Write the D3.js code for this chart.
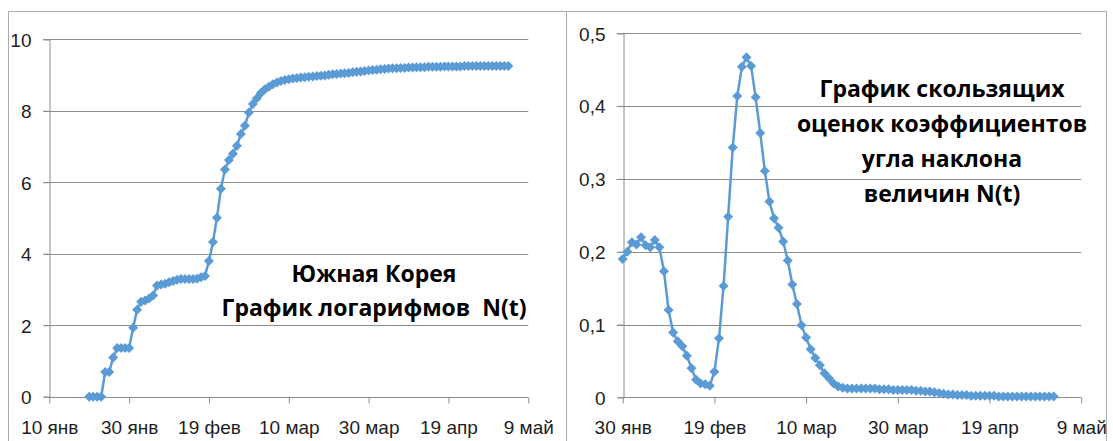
<!DOCTYPE html>
<html>
<head>
<meta charset="utf-8">
<script src="https://cdn.jsdelivr.net/npm/d3@7"></script>
<style>
  body { margin: 0; background: #fff; }
  svg { display: block; font-family: "Open Sans", "Noto Sans", sans-serif; }
  .tick text { font-size: 19px; fill: #1e1e1e; }
  .note { font-size: 23px; font-weight: bold; fill: #000; white-space: pre; }
</style>
</head>
<body>
<script>
// ln N(t), Korea, one value per day starting 20 Jan 2020
var leftStart = "2020-01-20"
var leftValues = [0, 0, 0, 0, 0.69, 0.69, 1.1, 1.36, 1.36, 1.36, 1.36, 1.93, 2.43, 2.66, 2.69, 2.75, 2.83,
  3.11, 3.14, 3.16, 3.2, 3.24, 3.27, 3.29, 3.29, 3.29, 3.29, 3.3, 3.34, 3.38,
  3.8, 4.33, 5.01, 5.82, 6.36, 6.62, 6.8, 7.02, 7.35, 7.58, 7.95,
  8.19, 8.35, 8.5, 8.6, 8.67, 8.74, 8.79, 8.83, 8.86, 8.88,
  8.9, 8.92, 8.93, 8.94, 8.95, 8.96, 8.97, 8.98, 8.99, 9.01,
  9.02, 9.03, 9.04, 9.05, 9.06, 9.08, 9.09, 9.1, 9.11, 9.13, 9.14,
  9.15, 9.16, 9.17, 9.18, 9.19, 9.19, 9.2, 9.2, 9.21, 9.21,
  9.22, 9.22, 9.22, 9.23, 9.23, 9.23, 9.23, 9.24, 9.24, 9.24,
  9.24, 9.24, 9.25, 9.25, 9.25, 9.25, 9.25, 9.25, 9.25, 9.25, 9.25, 9.25, 9.25, 9.25]

// rolling slope estimates, one value per day starting 30 Jan 2020
var rightStart = "2020-01-30"
var rightValues = [0.19, 0.2, 0.213, 0.21, 0.22, 0.209, 0.206, 0.216, 0.206, 0.173,
  0.12, 0.089, 0.077, 0.07, 0.057, 0.04, 0.024, 0.019, 0.018, 0.016,
  0.035, 0.081, 0.153, 0.248, 0.343, 0.414, 0.454, 0.467, 0.455, 0.412,
  0.363, 0.311, 0.269, 0.246, 0.233, 0.214, 0.188, 0.155, 0.128, 0.099,
  0.082, 0.066, 0.054, 0.044, 0.033, 0.026, 0.019, 0.015, 0.013, 0.012,
  0.012, 0.012, 0.012, 0.012, 0.012, 0.012, 0.011, 0.011, 0.011, 0.01,
  0.01, 0.01, 0.01, 0.01, 0.009, 0.009, 0.008, 0.008, 0.007, 0.006,
  0.005, 0.004, 0.004, 0.003, 0.003, 0.003, 0.002, 0.002, 0.002, 0.002,
  0.002, 0.002, 0.001, 0.001, 0.001, 0.001, 0.001, 0.001, 0.001, 0.001,
  0.001, 0.001, 0.001, 0.001, 0.001]

var leftTickDates = ["2020-01-10", "2020-01-30", "2020-02-19", "2020-03-10", "2020-03-30", "2020-04-19", "2020-05-09"]
var leftTickLabels = ["10 янв", "30 янв", "19 фев", "10 мар", "30 мар", "19 апр", "9 май"]
var rightTickDates = ["2020-01-30", "2020-02-19", "2020-03-10", "2020-03-30", "2020-04-19", "2020-05-09"]
var rightTickLabels = ["30 янв", "19 фев", "10 мар", "30 мар", "19 апр", "9 май"]
var leftYTicks = [0, 2, 4, 6, 8, 10]
var rightYTicks = [0, 0.1, 0.2, 0.3, 0.4, 0.5]

var leftNote = ["Южная Корея", "График логарифмов  N(t)"]
var rightNote = ["График скользящих", "оценок коэффициентов", "угла наклона", "величин N(t)"]

var parse = d3.utcParse("%Y-%m-%d")
var blue = "#5B9BD5"
var grid = "#8c8c8c"
var diamond = "M0,-5L5,0L0,5L-5,0Z"

var svg = d3.select("body").append("svg")
  .attr("width", 1113)
  .attr("height", 441)

// chart frames
svg.append("path")
  .attr("d", "M8.5,441V11.5H1106.5V441M566.5,11.5V441")
  .attr("fill", "none")
  .attr("stroke", "#ababab")
  .attr("stroke-width", 1)

function panel(opt) {
  var dates = opt.values.map(function(v, i) { return d3.utcDay.offset(parse(opt.start), i) })
  var tickDates = opt.tickDates.map(parse)

  var x = d3.scaleUtc()
    .domain([tickDates[0], tickDates[tickDates.length - 1]])
    .range([opt.left, opt.right])
  var y = d3.scaleLinear()
    .domain([opt.yTicks[0], opt.yTicks[opt.yTicks.length - 1]])
    .range([opt.bottom, opt.top])

  var g = svg.append("g")

  // gridlines
  g.append("g").selectAll("line")
    .data(opt.yTicks.slice(1))
    .join("line")
    .attr("x1", opt.left - 6).attr("x2", opt.right)
    .attr("y1", function(d) { return Math.round(y(d)) + 0.5 })
    .attr("y2", function(d) { return Math.round(y(d)) + 0.5 })
    .attr("stroke", grid)

  var yAxis = g.append("g")
    .attr("transform", "translate(" + (Math.round(opt.left) + 0.5) + ",0)")
    .call(d3.axisLeft(y).tickValues(opt.yTicks).tickSizeOuter(0).tickSize(6).tickPadding(12)
      .tickFormat(function(d) { return String(d).replace(".", ",") }))
  yAxis.selectAll(".tick line").attr("stroke", grid)
  yAxis.select(".domain").attr("stroke", grid)
  yAxis.selectAll(".tick text").attr("dy", "0.36em")

  var xAxis = g.append("g")
    .attr("transform", "translate(0," + (Math.round(opt.bottom) + 0.5) + ")")
    .call(d3.axisBottom(x).tickValues(tickDates).tickSizeOuter(0).tickSize(6).tickPadding(10)
      .tickFormat(function(d, i) { return opt.tickLabels[i] }))
  xAxis.selectAll(".tick line").attr("stroke", grid)
  xAxis.select(".domain").attr("stroke", grid).attr("d", "M" + opt.left + ",0H" + opt.right)
  xAxis.selectAll(".tick text").attr("dy", "1.1em")
  svg.selectAll(".tick text").attr("font-family", null).attr("font-size", null)

  var line = d3.line()
    .x(function(d, i) { return x(dates[i]) })
    .y(function(d) { return y(d) })

  g.append("path")
    .datum(opt.values)
    .attr("d", line)
    .attr("fill", "none")
    .attr("stroke", blue)
    .attr("stroke-width", 2.5)
    .attr("stroke-linejoin", "round")

  g.append("g").selectAll("path")
    .data(opt.values)
    .join("path")
    .attr("d", diamond)
    .attr("transform", function(d, i) { return "translate(" + x(dates[i]) + "," + y(d) + ")" })
    .attr("fill", blue)

  g.append("g").selectAll("text")
    .data(opt.note)
    .join("text")
    .attr("class", "note")
    .attr("x", opt.noteX)
    .attr("y", function(d, i) { return opt.noteY + i * opt.noteStep })
    .attr("text-anchor", "middle")
    .text(function(d) { return d })
}

panel({
  start: leftStart, values: leftValues,
  tickDates: leftTickDates, tickLabels: leftTickLabels, yTicks: leftYTicks,
  left: 49.3, right: 528.3, top: 39.3, bottom: 396.7,
  note: leftNote, noteX: 374, noteY: 281.5, noteStep: 34.5
})

panel({
  start: rightStart, values: rightValues,
  tickDates: rightTickDates, tickLabels: rightTickLabels, yTicks: rightYTicks,
  left: 622.7, right: 1081.2, top: 33.3, bottom: 397.3,
  note: rightNote, noteX: 942, noteY: 97, noteStep: 35
})
</script>
</body>
</html>
